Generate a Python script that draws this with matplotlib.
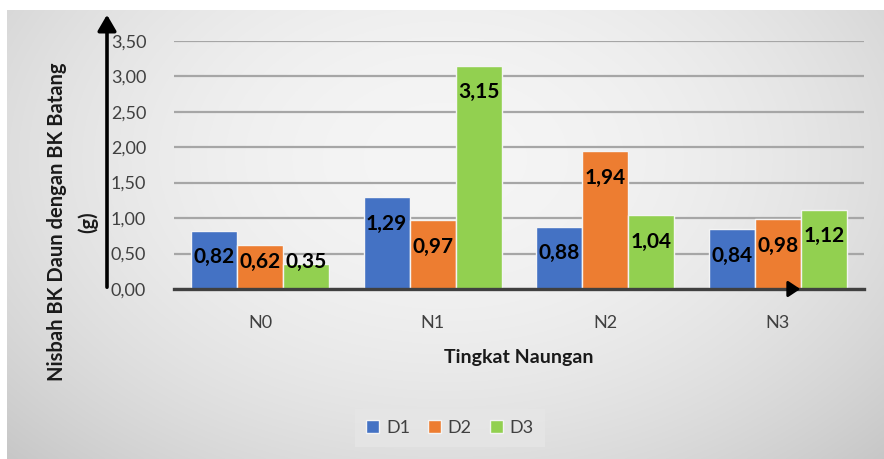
import numpy as np
import matplotlib
matplotlib.use("Agg")
import matplotlib.pyplot as plt

categories = ["N0", "N1", "N2", "N3"]
series_names = ["D1", "D2", "D3"]
d1 = [0.82, 1.29, 0.88, 0.84]
d2 = [0.62, 0.97, 1.94, 0.98]
d3 = [0.35, 3.15, 1.04, 1.12]
colors = ["#4472C4", "#ED7D31", "#92D050"]
yticks = [0.0, 0.5, 1.0, 1.5, 2.0, 2.5, 3.0, 3.5]

plt.rcParams['font.family'] = ['Lato', 'DejaVu Sans']

W, H = 884, 459
fig = plt.figure(figsize=(W / 100, H / 100), dpi=100)
fig.patch.set_facecolor("white")

# gradient background
bg = fig.add_axes([7 / W, 0, 1 - 7 / W, 1 - 10 / H], zorder=-5)
yy, xx = np.mgrid[0:1:300j, 0:1:600j]
dx = (xx - 0.5) / 0.5
dy = (yy - 0.33) / 0.67
r2 = dx ** 2 + dy ** 2
c = np.clip(0.96 - 0.09 * r2, 0, 1)
img = np.dstack([c, c, c])
bg.imshow(img, aspect="auto", extent=[0, 1, 1, 0])
bg.set_axis_off()

ax = fig.add_axes([174 / W, 1 - 289 / H, (864 - 174) / W, (289 - 40.7) / H])
ax.set_facecolor("none")

x = np.arange(len(categories))
bw = 0.267
all_series = [d1, d2, d3]
for i, (vals, col, name) in enumerate(zip(all_series, colors, series_names)):
    pos = x + (i - 1) * bw
    ax.bar(pos, vals, width=bw, color=col, edgecolor="#f4f4f4", linewidth=1.0,
           label=name, zorder=3)
    for p, v in zip(pos, vals):
        ly = max(v - 0.375, 0.375)
        ax.text(p, ly, f"{v:.2f}".replace(".", ","), ha="center", va="center",
                fontsize=15, fontweight="bold", color="black", zorder=5)

ax.set_ylim(0, 3.5)
ax.set_xlim(-0.5, 3.5)
ax.set_yticks(yticks)
ax.set_yticklabels([f"{t:.2f}".replace(".", ",") for t in yticks])
ax.set_xticks(x)
ax.set_xticklabels(categories)
ax.tick_params(axis="y", length=0, pad=20, labelsize=13, labelcolor="#404040")
ax.tick_params(axis="x", length=0, pad=19, labelsize=13, labelcolor="#404040")
ax.yaxis.grid(True, color="#a6a6a6", linewidth=1.6, zorder=0)
ax.set_axisbelow(True)
for s in ["left", "right", "top"]:
    ax.spines[s].set_visible(False)
ax.spines["bottom"].set_color("#404040")
ax.spines["bottom"].set_linewidth(2.4)
ax.spines["bottom"].set_zorder(4)

ax.set_xlabel("Tingkat Naungan", fontsize=14, fontweight="bold", labelpad=13,
              color="#1a1a1a")

# y label (two lines)
fig.text(57 / W, 1 - 222 / H, "Nisbah BK Daun dengan BK Batang", rotation=90,
         ha="center", va="center", fontsize=14.5, fontweight="bold", color="#1a1a1a")
fig.text(88 / W, 1 - 222 / H, "(g)", rotation=90,
         ha="center", va="center", fontsize=14.5, fontweight="bold", color="#1a1a1a")

# arrows
fig.patches.append(matplotlib.patches.FancyArrowPatch(
    (107 / W, 1 - 290 / H), (107 / W, 1 - 12 / H), transform=fig.transFigure,
    arrowstyle="-|>,head_length=6,head_width=3.5", color="black", linewidth=2.6,
    mutation_scale=1.6, zorder=10))
fig.patches.append(matplotlib.patches.FancyArrowPatch(
    (788 / W, 1 - 289 / H), (803 / W, 1 - 289 / H), transform=fig.transFigure,
    arrowstyle="-|>,head_length=4.5,head_width=3", color="black", linewidth=2.0,
    mutation_scale=1.6, zorder=10))

leg = fig.legend(loc="center", bbox_to_anchor=(450 / W, 1 - 428 / H), ncol=3,
                 frameon=True, fontsize=13, handlelength=0.7, handleheight=0.7,
                 handletextpad=0.4, columnspacing=1.0, borderpad=0.6)
leg.get_frame().set_facecolor("#e6e6e6")
leg.get_frame().set_edgecolor("none")
leg.get_frame().set_boxstyle("square", pad=0.0)
for t in leg.get_texts():
    t.set_color("#404040")

fig.savefig("out.png", dpi=100)
